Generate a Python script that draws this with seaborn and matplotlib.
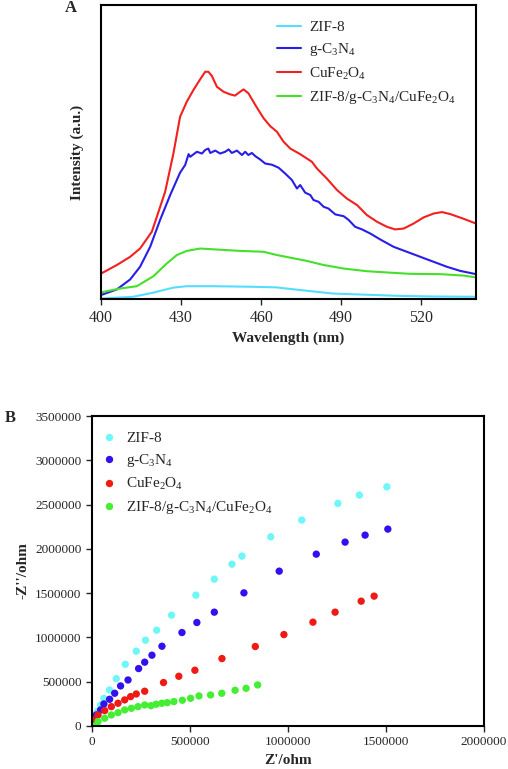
import pandas as pd
import numpy as np
import matplotlib
matplotlib.use('Agg')
import matplotlib.pyplot as plt
import seaborn as sns

# ============================================================
# DATA
# ============================================================
samples = ['ZIF-8', 'g-C3N4', 'CuFe2O4', 'ZIF-8/g-C3N4/CuFe2O4']
labels = ['ZIF-8', 'g-C$_3$N$_4$', 'CuFe$_2$O$_4$', 'ZIF-8/g-C$_3$N$_4$/CuFe$_2$O$_4$']

# (A) PL spectra, arbitrary units
wl_zif = [400, 412, 419.5, 427, 432, 442, 457, 465.7, 474.5, 487, 499.5, 512, 524.5, 540.5]
pl_zif = [0.2, 0.8, 2.2, 3.9, 4.4, 4.4, 4.2, 4.0, 3.1, 1.9, 1.5, 1.1, 0.9, 0.8]

wl_gcn = [400, 405.9, 410.9, 414.6, 418.4, 422.1, 425.9, 429.6, 431.5, 432.8, 433.4, 435.9,
          437.8, 439, 440.2, 440.9, 442.8, 444.6, 446.5, 447.8, 449, 450.9, 452.8, 454,
          455.2, 456.5, 457.8, 459.6, 461.5, 464, 466.5, 469, 471.5, 473.4, 474.6, 476.5,
          478.4, 479.6, 481.5, 483.4, 485.2, 487.8, 490.9, 492.8, 495.2, 497.8, 500.9,
          504.6, 509.6, 514.6, 519.6, 524.6, 529.6, 534.6, 540.5]
pl_gcn = [1.4, 3.3, 6.7, 11.0, 17.8, 26.9, 35.4, 43.0, 45.6, 49.3, 48.4, 50.1,
          49.5, 50.7, 51.2, 49.7, 50.5, 49.5, 50.1, 50.9, 49.7, 50.5, 49.0, 50.1,
          49.0, 49.7, 48.6, 47.5, 46.1, 45.7, 44.7, 42.7, 40.5, 37.6, 38.8, 36.2,
          35.4, 33.7, 33.1, 31.4, 30.8, 28.8, 28.2, 26.9, 24.6, 23.7, 22.3,
          20.3, 17.8, 16.1, 14.4, 12.7, 11.0, 9.6, 8.5]

wl_cfo = [400, 405.9, 410.9, 414.6, 419, 420.9, 424, 427.1, 429.6, 432.1, 434.6, 437.1,
          439, 440.2, 441.5, 443.4, 445.9, 448.4, 450.2, 452.1, 453.4, 455.2, 457.8,
          460.9, 463.4, 465.9, 468.4, 470.9, 474.6, 479, 480.9, 484.6, 488.4, 492.1,
          495.9, 499.6, 503.4, 507.1, 510.2, 513.4, 517.1, 520.9, 524.6, 527.8, 530.9,
          535.9, 540.5]
pl_cfo = [8.7, 11.6, 14.4, 17.2, 22.9, 28.0, 36.5, 49.5, 62.0, 67.1, 71.1, 74.7,
          77.3, 77.3, 75.9, 72.2, 70.5, 69.6, 69.2, 70.5, 71.3, 70.0, 66.0,
          61.5, 58.8, 56.9, 53.5, 51.2, 49.3, 46.7, 44.4, 41.0, 37.1, 34.2,
          32.0, 28.6, 26.3, 24.6, 23.7, 24.0, 25.7, 27.8, 29.1, 29.6, 28.9,
          27.3, 25.7]

wl_comp = [400, 407.1, 413.4, 419.6, 424.6, 428.4, 432.1, 437.1, 440.9, 452.1, 460.9,
           465.9, 470.9, 477.1, 483.4, 490.9, 499.6, 508.4, 515.9, 527.1, 535.9, 540.5]
pl_comp = [2.3, 3.6, 4.4, 7.8, 12.1, 15.0, 16.4, 17.2, 17.0, 16.4, 16.1,
           15.0, 14.1, 13.0, 11.6, 10.4, 9.5, 9.0, 8.6, 8.5, 8.0, 7.4]

# (B) Nyquist plots, ohm
zre_zif = [27e3, 44e3, 61e3, 90e3, 124e3, 170e3, 226e3, 273e3, 330e3, 406e3, 530e3,
           624e3, 714e3, 765e3, 912e3, 1070e3, 1254e3, 1364e3, 1504e3]
zim_zif = [162e3, 237e3, 312e3, 406e3, 534e3, 696e3, 844e3, 968e3, 1081e3, 1251e3, 1477e3,
           1658e3, 1827e3, 1918e3, 2136e3, 2325e3, 2513e3, 2607e3, 2701e3]

zre_gcn = [22e3, 44e3, 61e3, 90e3, 116e3, 146e3, 184e3, 238e3, 269e3, 306e3, 357e3,
           459e3, 535e3, 624e3, 775e3, 955e3, 1144e3, 1291e3, 1393e3, 1509e3]
zim_gcn = [124e3, 181e3, 248e3, 301e3, 369e3, 452e3, 519e3, 648e3, 720e3, 799e3, 900e3,
           1055e3, 1168e3, 1285e3, 1503e3, 1748e3, 1940e3, 2076e3, 2155e3, 2223e3]

zre_cfo = [5e3, 31e3, 65e3, 99e3, 133e3, 167e3, 197e3, 226e3, 269e3, 365e3, 443e3,
           525e3, 663e3, 833e3, 979e3, 1127e3, 1240e3, 1373e3, 1439e3]
zim_cfo = [68e3, 124e3, 173e3, 218e3, 256e3, 294e3, 331e3, 361e3, 392e3, 490e3, 561e3,
           629e3, 761e3, 897e3, 1032e3, 1172e3, 1285e3, 1409e3, 1466e3]

zre_comp = [5e3, 31e3, 65e3, 99e3, 133e3, 167e3, 201e3, 235e3, 269e3, 301e3, 327e3,
            356e3, 384e3, 418e3, 461e3, 503e3, 546e3, 605e3, 662e3, 730e3, 786e3, 845e3]
zim_comp = [0, 49e3, 87e3, 124e3, 150e3, 181e3, 199e3, 218e3, 237e3, 229e3, 245e3,
            256e3, 263e3, 275e3, 290e3, 312e3, 339e3, 350e3, 369e3, 403e3, 425e3, 463e3]

# ============================================================
# BUILD DATAFRAMES
# ============================================================
pl_df = pd.concat([
    pd.DataFrame({'wl': w, 'I': i, 'sample': s})
    for w, i, s in zip([wl_zif, wl_gcn, wl_cfo, wl_comp],
                       [pl_zif, pl_gcn, pl_cfo, pl_comp], samples)
])
eis_df = pd.concat([
    pd.DataFrame({'zre': x, 'zim': y, 'sample': s})
    for x, y, s in zip([zre_zif, zre_gcn, zre_cfo, zre_comp],
                       [zim_zif, zim_gcn, zim_cfo, zim_comp], samples)
])

line_colors = ['#55DDFF', '#2A1EE6', '#F2201E', '#44E02A']
dot_colors = ['#6FF7F7', '#3311EE', '#EE1A14', '#44EE33']

# ============================================================
# PLOT
# ============================================================
sns.set_style('white')
plt.rcParams['font.family'] = ['Liberation Serif', 'DejaVu Serif']
plt.rcParams['mathtext.default'] = 'regular'

fig = plt.figure(figsize=(5.08, 7.69), dpi=100)
axA = fig.add_axes([0.199, 0.611, 0.738, 0.3825])
axB = fig.add_axes([0.181, 0.056, 0.772, 0.403])

# Panel A
sns.lineplot(data=pl_df, x='wl', y='I', hue='sample', hue_order=samples,
             palette=line_colors, estimator=None, sort=True, linewidth=1.5, ax=axA)
axA.set_xlim(400, 540.5)
axA.set_ylim(0, 100)
axA.set_xticks([400, 430, 460, 490, 520])
axA.set_yticks([])
axA.tick_params(axis='x', labelsize=11.5, direction='out', length=4, width=1, bottom=True)
axA.set_xlabel('Wavelength (nm)', fontsize=11, fontweight='bold', labelpad=4)
axA.set_ylabel('Intensity (a.u.)', fontsize=11, fontweight='bold', labelpad=12)
h, _ = axA.get_legend_handles_labels()
axA.legend(h, labels, loc='upper left', bbox_to_anchor=(0.469, 0.948), frameon=False,
           fontsize=11, handlelength=1.6, handletextpad=0.5, labelspacing=0.48,
           borderpad=0, borderaxespad=0)
for sp in axA.spines.values():
    sp.set_color('black')
    sp.set_linewidth(1.5)
fig.text(0.128, 0.989, 'A', fontsize=12, fontweight='bold', ha='left', va='center')

# Panel B
sns.scatterplot(data=eis_df, x='zre', y='zim', hue='sample', hue_order=samples,
                palette=dot_colors, s=28, linewidth=0, ax=axB)
axB.set_xlim(0, 2000000)
axB.set_ylim(0, 3500000)
axB.set_xticks([0, 500000, 1000000, 1500000, 2000000])
axB.set_yticks(np.arange(0, 3500001, 500000))
axB.set_xticklabels(['0', '500000', '1000000', '1500000', '2000000'])
axB.set_yticklabels([str(v) for v in range(0, 3500001, 500000)])
axB.tick_params(axis='both', labelsize=9.5, direction='out', length=4, width=1,
                bottom=True, left=True)
axB.set_xlabel("Z'/ohm", fontsize=11, fontweight='bold', labelpad=4)
axB.set_ylabel("-Z''/ohm", fontsize=11, fontweight='bold', labelpad=4)
h, _ = axB.get_legend_handles_labels()
axB.legend(h, labels, loc='upper left', bbox_to_anchor=(0.005, 0.95), frameon=False,
           fontsize=11, handletextpad=0.1, labelspacing=0.45, markerscale=1.0,
           borderpad=0, borderaxespad=0)
for sp in axB.spines.values():
    sp.set_color('black')
    sp.set_linewidth(1.5)
fig.text(0.01, 0.456, 'B', fontsize=12, fontweight='bold', ha='left', va='center')

fig.savefig('out.png', dpi=100)
